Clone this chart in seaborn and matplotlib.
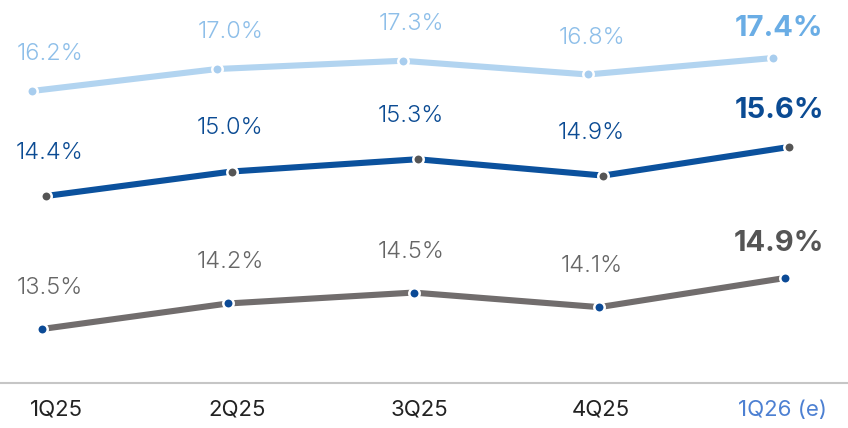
import matplotlib
matplotlib.use("Agg")
import matplotlib.pyplot as plt
import seaborn as sns
import pandas as pd

# Quarterly values (%) for the three series
quarters = ["1Q25", "2Q25", "3Q25", "4Q25", "1Q26 (e)"]
series_top = [16.2, 17.0, 17.3, 16.8, 17.4]
series_mid = [14.4, 15.0, 15.3, 14.9, 15.6]
series_low = [13.5, 14.2, 14.5, 14.1, 14.9]

W, H = 848, 428

sns.set_theme(style="white")
plt.rcParams["font.family"] = ["Inter", "DejaVu Sans"]

fig = plt.figure(figsize=(W / 100, H / 100), dpi=100)

# Base axis: baseline and quarter labels
base_y = 383
base = fig.add_axes([0, (H - base_y) / H, 1, base_y / H])
base.set_facecolor("none")
tick_x0, tick_step = 56, 181.5
base.set_xlim(-tick_x0 / tick_step, (W - tick_x0) / tick_step)
base.set_ylim(0, 1)
base.set_xticks(range(len(quarters)))
base.set_xticklabels(quarters)
base.set_yticks([])
for side in ("top", "left", "right"):
    base.spines[side].set_visible(False)
base.spines["bottom"].set_color("#c6c6c6")
base.spines["bottom"].set_linewidth(1.5)
base.tick_params(axis="x", length=0, pad=12, labelsize=16, labelcolor="#222222")
base.get_xticklabels()[-1].set_color("#4d80d2")

# Value labels sit on a shared column grid; the highlighted last value is nudged right
label_x0, label_step, last_shift = 50, 180.5, 7

# Each series sits in its own horizontal band with its own vertical scale
bands = [
    dict(values=series_top, line="#b2d4f0", dot="#a8cdee", label="#8ebfe9",
         bold="#6aade5", x0=32, step=185.25, y_first=91, y_last=58, dy=37),
    dict(values=series_mid, line="#0b519d", dot="#555555", label="#0b4b93",
         bold="#0b4b93", x0=46, step=185.75, y_first=196, y_last=147, dy=43),
    dict(values=series_low, line="#716d6d", dot="#0b4a96", label="#666666",
         bold="#555555", x0=42, step=185.75, y_first=329, y_last=278, dy=41),
]

for b in bands:
    vals = b["values"]
    ax = fig.add_axes([0, 0, 1, 1])
    ax.set_facecolor("none")
    ax.set_xlim(-b["x0"] / b["step"], (W - b["x0"]) / b["step"])
    s = (b["y_first"] - b["y_last"]) / (vals[-1] - vals[0])
    ax.set_ylim(vals[0] - (H - b["y_first"]) / s, vals[0] + b["y_first"] / s)

    df = pd.DataFrame({"q": range(len(vals)), "v": vals})
    sns.lineplot(data=df, x="q", y="v", ax=ax, color=b["line"], linewidth=4.4,
                 marker="o", markersize=7.5, markerfacecolor=b["dot"],
                 markeredgecolor="white", markeredgewidth=1.8,
                 solid_capstyle="butt")
    ax.set_axis_off()

    for i, v in enumerate(vals):
        last = i == len(vals) - 1
        dx = (label_x0 + i * label_step) - (b["x0"] + i * b["step"])
        if last:
            dx += last_shift
        ax.annotate(f"{v:.1f}%", (i, v), xytext=(dx, b["dy"] - (7 if last else 0)),
                    textcoords="offset pixels", ha="center", va="center",
                    fontsize=21 if last else 17,
                    fontweight="bold" if last else 300,
                    color=b["bold"] if last else b["label"])

fig.savefig("out.png", dpi=100)
